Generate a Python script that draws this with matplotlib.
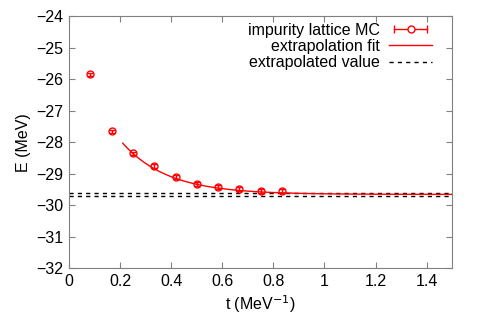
import matplotlib
matplotlib.use("Agg")
import numpy as np
import matplotlib.pyplot as plt
from matplotlib.lines import Line2D
from matplotlib.legend_handler import HandlerLine2D, HandlerTuple

plt.rcParams['font.family'] = ['Liberation Sans', 'DejaVu Sans']
plt.rcParams['font.size'] = 11.5

# lattice MC results
t = [1/12, 2/12, 3/12, 4/12, 5/12, 6/12, 7/12, 8/12, 9/12, 10/12]
E = [-25.84, -27.65, -28.36, -28.76, -29.10, -29.34, -29.42, -29.48, -29.55, -29.56]
E_err = [0.05, 0.05, 0.06, 0.06, 0.06, 0.06, 0.06, 0.06, 0.06, 0.06]

# fit parameters E(t) = E_inf + A exp(-b t)
E_inf = -29.66
A = 5.27
b = 5.6
t_fit_start = 0.21

# extrapolated value band
E_lo = -29.71
E_hi = -29.61

fig = plt.figure(figsize=(4.8, 3.36), dpi=100)
ax = fig.add_axes([0.144, 0.202, 0.798, 0.750])

tt = np.linspace(t_fit_start, 1.5, 200)
ax.plot(tt, E_inf + A * np.exp(-b * tt), color='red', lw=1.0, zorder=3)

ax.axhline(E_hi, color='black', lw=1.0, ls=(0, (3, 3)), zorder=2)
ax.axhline(E_lo, color='black', lw=1.0, ls=(0, (3, 3)), zorder=2)

ax.errorbar(t, E, yerr=E_err, fmt='o', mfc='none', mec='red', ecolor='red',
            color='red', ms=5, mew=1.0, elinewidth=1.0, capsize=2.5, zorder=4)

ax.set_xlim(0, 1.5)
ax.set_ylim(-32, -24)
ax.set_xticks([0, 0.2, 0.4, 0.6, 0.8, 1.0, 1.2, 1.4])
ax.set_xticklabels(['0', '0.2', '0.4', '0.6', '0.8', '1', '1.2', '1.4'])
ax.set_yticks(range(-32, -23))
ax.tick_params(direction='in', top=True, right=True, length=4, color='#808080', pad=4)
for s in ax.spines.values():
    s.set_color('#808080')

ax.set_xlabel('t (MeV$^{-1}$)', labelpad=3)
ax.set_ylabel('E (MeV)', labelpad=4)

# legend: gnuplot style, errorbar shown with caps at both ends
caps = Line2D([], [], color='red', marker='|', ms=6, mew=1.0, lw=1.0)
circ = Line2D([], [], color='red', marker='o', mfc='white', ms=5, mew=1.0, lw=0)
handles = [
    (caps, circ),
    Line2D([], [], color='red', lw=1.0),
    Line2D([], [], color='black', lw=1.0, ls=(0, (3, 3))),
]
labels = ['impurity lattice MC', 'extrapolation fit', 'extrapolated value']
ax.legend(handles, labels, loc='upper right', bbox_to_anchor=(0.948, 0.974),
          frameon=False, markerfirst=False, borderpad=0, borderaxespad=0,
          handlelength=2.7, labelspacing=0.08, handletextpad=0.56,
          handler_map={caps: HandlerLine2D(numpoints=2), tuple: HandlerTuple(ndivide=1)})

fig.savefig('out.png', dpi=100)
